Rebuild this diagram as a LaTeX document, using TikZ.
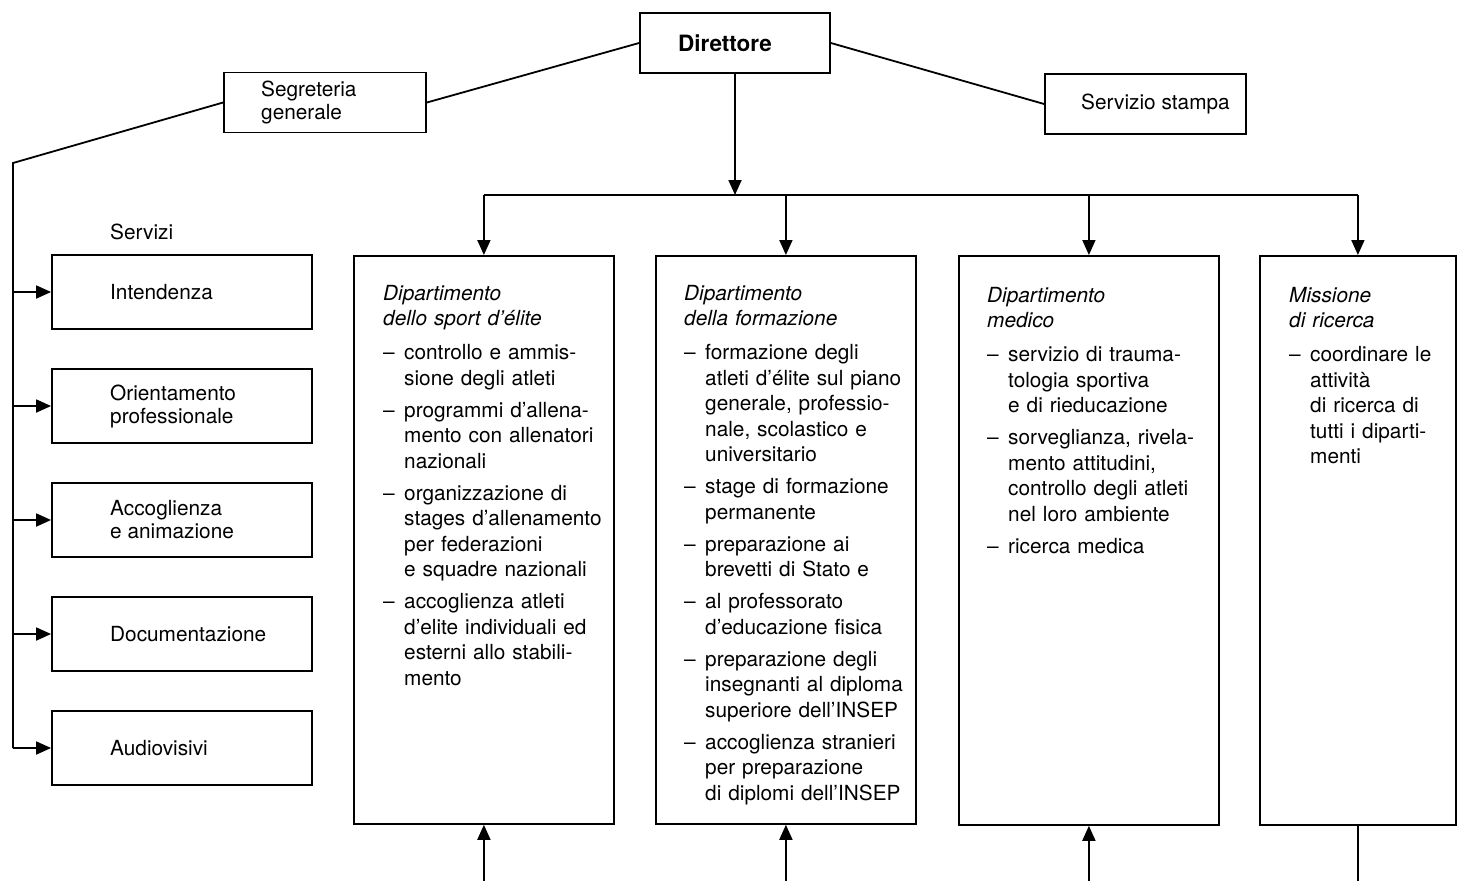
\documentclass[tikz,border=0pt]{standalone}
\usepackage{fontspec}
\setmainfont{TeX Gyre Heros}
\usetikzlibrary{arrows.meta}
\newcommand{\itm}[1]{\par\noindent\makebox[21pt][l]{–}\begin{tabular}[t]{@{}l@{}}#1\end{tabular}}
\newcommand{\hd}[1]{\strut{\itshape #1}\par\vspace{2pt}}
\begin{document}
\begin{tikzpicture}[x=1pt,y=-1pt,
  box/.style={draw, line width=1.8pt, inner sep=0pt},
  txt/.style={inner sep=0pt, align=left, font=\fontsize{20.8}{23}\selectfont},
  ln/.style={line width=1.8pt},
  arr/.style={line width=1.8pt, -{Triangle[length=15pt,width=13pt]}},
  dept/.style={inner sep=0pt, anchor=north west, align=left,
    font=\fontsize{20.8}{25.5}\selectfont\setlength{\parskip}{6.5pt}\setlength{\lineskip}{0pt}}
]
\useasboundingbox (0,0) rectangle (1464,881);

% top boxes
\node[box, minimum width=190pt, minimum height=60pt] (dir) at (735,43) {};
\node[txt, font=\fontsize{22.5}{25}\selectfont\bfseries] (dirt) at (725,43) {Direttore};
\node[box, minimum width=202pt, minimum height=60pt] (seg) at (325,102.5) {};
\node[txt, anchor=west] (segt) at (261,102.5) {Segreteria\\generale};
\node[box, minimum width=201pt, minimum height=60pt] (sta) at (1145.5,104) {};
\node[txt, anchor=west] (stat) at (1081,104) {Servizio stampa};

\draw[ln] (dir.west) -- (seg.east);
\draw[ln] (dir.east) -- (sta.west);

% services
\node[txt, anchor=west] (servizi) at (110,232) {Servizi};
\foreach \n/\y/\t in {s1/292/Intendenza, s2/406/{Orientamento\\professionale}, s3/520/{Accoglienza\\e animazione}, s4/634/Documentazione, s5/748/Audiovisivi}{
  \node[box, minimum width=260pt, minimum height=74pt] (\n) at (182,\y) {};
  \node[txt, anchor=west] (\n t) at (110,\y) {\t};
}
\coordinate (c1) at (13,163);
\draw[ln] (seg.west) -- (c1) -- (c1 |- s5.west);
\foreach \n in {s1,s2,s3,s4,s5}{
  \draw[arr] (c1 |- \n.west) -- (\n.west);
}

% departments
\node[box, minimum width=260pt, minimum height=568pt, anchor=north west] (d1) at (353,255) {};
\node[box, minimum width=260pt, minimum height=568pt, anchor=north west] (d2) at (655,255) {};
\node[box, minimum width=260pt, minimum height=569pt, anchor=north west] (d3) at (958,255) {};
\node[box, minimum width=196pt, minimum height=569pt, anchor=north west] (d4) at (1259,255) {};

\node[dept, text width=228pt] (d1t) at (383,282) {\hd{Dipartimento\\dello sport d’élite}
\itm{controllo e ammis-\\sione degli atleti}
\itm{programmi d’allena-\\mento con allenatori\\nazionali}
\itm{organizzazione di\\stages d’allenamento\\per federazioni\\e squadre nazionali}
\itm{accoglienza atleti\\d’elite individuali ed\\esterni allo stabili-\\mento}};

\node[dept, text width=228pt] (d2t) at (684,282) {\hd{Dipartimento\\della formazione}
\itm{formazione degli\\atleti d’élite sul piano\\generale, professio-\\nale, scolastico e\\universitario}
\itm{stage di formazione\\permanente}
\itm{preparazione ai\\brevetti di Stato e}
\itm{al professorato\\d’educazione fisica}
\itm{preparazione degli\\insegnanti al diploma\\superiore dell’INSEP}
\itm{accoglienza stranieri\\per preparazione\\di diplomi dell’INSEP}};

\node[dept, text width=228pt] (d3t) at (987,284) {\hd{Dipartimento\\medico}
\itm{servizio di trauma-\\tologia sportiva\\e di rieducazione}
\itm{sorveglianza, rivela-\\mento attitudini,\\controllo degli atleti\\nel loro ambiente}
\itm{ricerca medica}};

\node[dept, text width=165pt] (d4t) at (1289,284) {\hd{Missione\\di ricerca}
\itm{coordinare le\\attività\\di ricerca di\\tutti i diparti-\\menti}};

% director to departments
\coordinate (bus) at (735,195);
\draw[arr] (dir.south) -- (bus);
\draw[ln] (d1.north |- bus) -- (d4.north |- bus);
\foreach \d in {d1,d2,d3,d4}{
  \draw[arr] (\d.north |- bus) -- (\d.north);
}

% bottom connectors
\foreach \d in {d1,d2,d3}{
  \coordinate (\d b) at (\d.south |- 0,881);
  \draw[arr] (\d b) -- (\d.south);
}
\coordinate (d4b) at (d4.south |- 0,881);
\draw[ln] (d4.south) -- (d4b);
\end{tikzpicture}
\end{document}
